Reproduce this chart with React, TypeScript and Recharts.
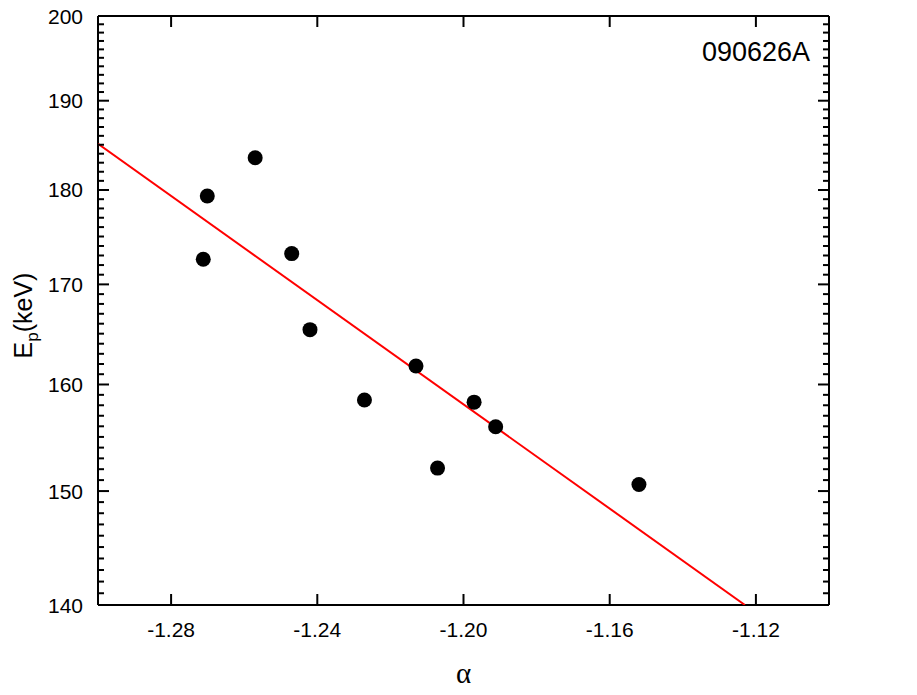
import React from "react";
import { ScatterChart, Scatter, XAxis, YAxis } from "recharts";

// alpha vs peak energy, GRB 090626A
const alpha = [-1.2712, -1.2701, -1.257, -1.247, -1.242, -1.2271, -1.213, -1.2071, -1.1971, -1.1912, -1.152];
const peakEnergy = [172.6, 179.35, 183.55, 173.2, 165.4, 158.5, 161.8, 152.1, 158.3, 155.96, 150.6];

// fitted line endpoints (straight on log-y)
const fitAlpha = [-1.3, -1.123];
const fitEnergy = [185.1, 140];

const xTicks = [-1.28, -1.24, -1.2, -1.16, -1.12];
const yMajorTicks = [140, 150, 160, 170, 180, 190, 200];
const yMinorStep = 1;

const grbName = "090626A";

const FONT = '"Liberation Sans", Arial, Helvetica, sans-serif';

const points = alpha.map((a, i) => ({ x: a, y: peakEnergy[i] }));
const fit = fitAlpha.map((a, i) => ({ x: a, y: fitEnergy[i] }));

const yTicks: number[] = [];
for (let v = yMajorTicks[0]; v <= yMajorTicks[yMajorTicks.length - 1]; v += yMinorStep) yTicks.push(v);

function isMajor(v: number) {
  return yMajorTicks.includes(v);
}

function BottomTick({ x, y, payload }: any) {
  return (
    <g>
      <line x1={x} x2={x} y1={y} y2={y - 11} stroke="#000" strokeWidth={2} />
      <text x={x} y={y + 32} textAnchor="middle" fontSize={21} fontFamily={FONT} fill="#000">
        {Number(payload.value).toFixed(2)}
      </text>
    </g>
  );
}

function TopTick({ x, y }: any) {
  return <line x1={x} x2={x} y1={y} y2={y + 11} stroke="#000" strokeWidth={2} />;
}

function LeftTick({ x, y, payload }: any) {
  const major = isMajor(payload.value);
  return (
    <g>
      <line x1={x} x2={x + (major ? 11 : 6)} y1={y} y2={y} stroke="#000" strokeWidth={2} />
      {major && (
        <text x={x - 15} y={y + 7.5} textAnchor="end" fontSize={21} fontFamily={FONT} fill="#000">
          {payload.value}
        </text>
      )}
    </g>
  );
}

function RightTick({ x, y, payload }: any) {
  const major = isMajor(payload.value);
  return <line x1={x} x2={x - (major ? 11 : 6)} y1={y} y2={y} stroke="#000" strokeWidth={2} />;
}

function AlphaLabel({ viewBox }: any) {
  const cx = viewBox.x + viewBox.width / 2;
  return (
    <text x={cx} y={683} textAnchor="middle" fontSize={29} fontFamily='"Liberation Serif", "Times New Roman", serif' fill="#000">
      α
    </text>
  );
}

function EpLabel({ viewBox }: any) {
  const cy = viewBox.y + viewBox.height / 2 + 5;
  return (
    <text transform={`translate(32, ${cy}) rotate(-90)`} textAnchor="middle" fontSize={25} fontFamily={FONT} fill="#000">
      E<tspan fontSize={17} dy={6}>p</tspan>
      <tspan dy={-6}>(keV)</tspan>
    </text>
  );
}

function NameLabel({ viewBox }: any) {
  return (
    <text x={829 - 19} y={viewBox.y + 45} textAnchor="end" fontSize={27} fontFamily={FONT} fill="#000">
      {grbName}
    </text>
  );
}

const Dot = (p: any) => <circle cx={p.cx} cy={p.cy} r={7.5} fill="#000" />;
const NoDot = () => <g />;

const axisLine = { stroke: "#000", strokeWidth: 2 };

export default function App() {
  return (
    <div style={{ position: "absolute", left: 0, top: 0, width: 917, height: 695, background: "#fff" }}>
      <ScatterChart width={917} height={695} margin={{ top: 15, right: 87, bottom: 50, left: 38 }}>
        <XAxis
          xAxisId="bottom"
          dataKey="x"
          type="number"
          domain={[-1.3, -1.1]}
          allowDataOverflow
          ticks={xTicks}
          interval={0}
          height={40}
          tickSize={0}
          tickMargin={0}
          tickLine={false}
          tick={BottomTick}
          axisLine={axisLine}
          label={<AlphaLabel />}
        />
        <XAxis
          xAxisId="top"
          orientation="top"
          dataKey="x"
          type="number"
          domain={[-1.3, -1.1]}
          allowDataOverflow
          ticks={xTicks}
          interval={0}
          height={1}
          tickSize={0}
          tickMargin={0}
          tickLine={false}
          tick={TopTick}
          axisLine={axisLine}
        />
        <YAxis
          yAxisId="left"
          dataKey="y"
          type="number"
          scale="log"
          domain={[140, 200]}
          allowDataOverflow
          ticks={yTicks}
          interval={0}
          width={60}
          tickSize={0}
          tickMargin={0}
          tickLine={false}
          tick={LeftTick}
          axisLine={axisLine}
          label={<EpLabel />}
        />
        <YAxis
          yAxisId="right"
          orientation="right"
          dataKey="y"
          type="number"
          scale="log"
          domain={[140, 200]}
          allowDataOverflow
          ticks={yTicks}
          interval={0}
          width={1}
          tickSize={0}
          tickMargin={0}
          tickLine={false}
          tick={RightTick}
          axisLine={axisLine}
          label={<NameLabel />}
        />
        <Scatter
          data={fit}
          xAxisId="top"
          yAxisId="right"
          line={{ stroke: "#ff0000", strokeWidth: 2 }}
          lineType="joint"
          shape={NoDot}
          isAnimationActive={false}
        />
        <Scatter
          data={points}
          xAxisId="bottom"
          yAxisId="left"
          shape={Dot}
          isAnimationActive={false}
        />
      </ScatterChart>
    </div>
  );
}
